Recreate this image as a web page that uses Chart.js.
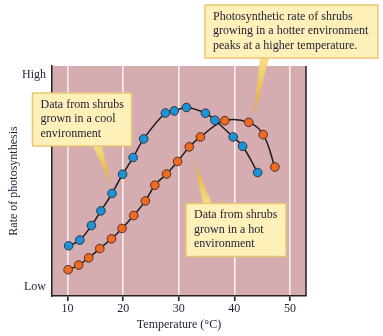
<!DOCTYPE html>
<html>
<head>
<meta charset="utf-8">
<script src="https://cdn.jsdelivr.net/npm/chart.js@4/dist/chart.umd.min.js"></script>
<style>
html,body{margin:0;padding:0;background:#fff}
#wrap{width:383px;height:336px;position:relative}
</style>
</head>
<body>
<div id="wrap"><canvas id="chart"></canvas></div>
<script>

// temperatures (°C) and relative rate (0 = Low, 100 = High)
const coolTemps = [10.2,12.2,14.3,16.0,18.0,19.9,21.8,23.7,27.6,29.2,31.4,34.8,36.5,39.8,41.5,44.2]
const coolRates = [19.5,22.2,29.1,36.0,44.2,53.3,61.2,70.0,82.2,83.2,84.8,82.1,78.8,70.9,66.5,54.1]

const hotTemps = [10.1,12.0,13.8,15.8,17.9,19.8,21.9,24.0,25.7,27.8,29.8,31.9,33.9,38.3,42.6,45.2,47.3]
const hotRates = [8.2,10.4,13.8,18.2,22.8,27.7,33.8,40.7,48.1,53.4,59.3,66.2,70.9,78.6,77.8,72.0,56.7]

const xTicks = [10,20,30,40,50]
const yTicks = [0,100]
const yTickLabels = ['Low','High']

const callouts = [
{lines:['Photosynthetic rate of shrubs','growing in a hotter environment','peaks at a higher temperature.'],
 box:[205,5,173,53], base:[260,58,269,58], tip:[254,115]},
{lines:['Data from shrubs','grown in a cool','environment'],
 box:[32.5,93,99,53], base:[93,146,102,146], tip:[111,185]},
{lines:['Data from shrubs','grown in a hot','environment'],
 box:[186,203.5,100,53], base:[203,204,212,204], tip:[194,162]}
]

const serif = "'Liberation Serif','DejaVu Serif',serif"

function pts(xs,ys){
return xs.map((x,i)=>({x:x,y:ys[i]}))
}

const plotBg = {
id:'plotBg',
beforeDraw(c){
const a=c.chartArea, ctx=c.ctx
ctx.save()
ctx.fillStyle='#d5acb0'
ctx.fillRect(a.left,a.top,a.right-a.left,a.bottom-a.top)
ctx.strokeStyle='#2a1a1c'
ctx.lineWidth=1.5
ctx.beginPath()
ctx.moveTo(a.right,a.top)
ctx.lineTo(a.right,a.bottom)
ctx.stroke()
ctx.restore()
}
}

const calloutPlugin = {
id:'callouts',
afterDraw(c){
const ctx=c.ctx
ctx.save()
callouts.forEach(o=>{
const [bx,by,bw,bh]=o.box
// tail
const g=ctx.createLinearGradient(o.base[0],o.base[1],o.tip[0],o.tip[1])
g.addColorStop(0,'#f7dc86')
g.addColorStop(1,'#e2a92c')
ctx.fillStyle=g
ctx.beginPath()
ctx.moveTo(o.base[0],o.base[1])
ctx.lineTo(o.tip[0],o.tip[1])
ctx.lineTo(o.base[2],o.base[3])
ctx.closePath()
ctx.fill()
// box
ctx.fillStyle='#fdf0b9'
ctx.strokeStyle='#eac673'
ctx.lineWidth=1.5
ctx.fillRect(bx,by,bw,bh)
ctx.strokeRect(bx,by,bw,bh)
ctx.fillStyle='#1e1e34'
ctx.font='12px '+serif
ctx.textBaseline='middle'
o.lines.forEach((t,i)=>{
ctx.fillText(t,bx+8,by+11.5+i*14.5)
})
})
ctx.restore()
}
}

new Chart(document.getElementById('chart'),{
type:'line',
data:{
datasets:[
{label:'cool',data:pts(coolTemps,coolRates),borderColor:'#1c1c1c',borderWidth:1.5,
 pointBackgroundColor:'#1b93d8',pointBorderColor:'#2d3540',pointBorderWidth:1,pointRadius:4.3,tension:0.4,fill:false},
{label:'hot',data:pts(hotTemps,hotRates),borderColor:'#1c1c1c',borderWidth:1.5,
 pointBackgroundColor:'#f26a22',pointBorderColor:'#4a3028',pointBorderWidth:1,pointRadius:4.3,tension:0.4,fill:false}
]
},
options:{
responsive:true,
maintainAspectRatio:false,
animation:false,
layout:{padding:{top:66,right:77,left:0,bottom:0}},
plugins:{legend:{display:false},tooltip:{enabled:false}},
scales:{
x:{
type:'linear',min:7.2,max:52.9,
afterBuildTicks:s=>{s.ticks=xTicks.map(v=>({value:v}))},
afterFit:s=>{s.height=40},
grid:{color:'rgba(255,245,245,0.9)',lineWidth:1.6,drawTicks:true,tickLength:5,tickColor:'#222'},
border:{display:true,color:'#222',width:1.5},
ticks:{color:'#1e1e34',font:{family:serif,size:12},padding:1,maxRotation:0},
title:{display:true,text:'Temperature (°C)',color:'#1e1e34',font:{family:serif,size:12},padding:{top:0,bottom:4}}
},
y:{
type:'linear',min:-4.2,max:104.4,
afterBuildTicks:s=>{s.ticks=yTicks.map(v=>({value:v}))},
afterFit:s=>{s.width=52},
grid:{display:false,drawTicks:false},
border:{display:true,color:'#222',width:1.5},
ticks:{color:'#1e1e34',font:{family:serif,size:12},padding:6,
 callback:(v)=>yTickLabels[yTicks.indexOf(v)]},
title:{display:true,text:'Rate of photosynthesis',color:'#1e1e34',font:{family:serif,size:12},padding:{top:7,bottom:0}}
}
}
},
plugins:[plotBg,calloutPlugin]
})

</script>
</body>
</html>
